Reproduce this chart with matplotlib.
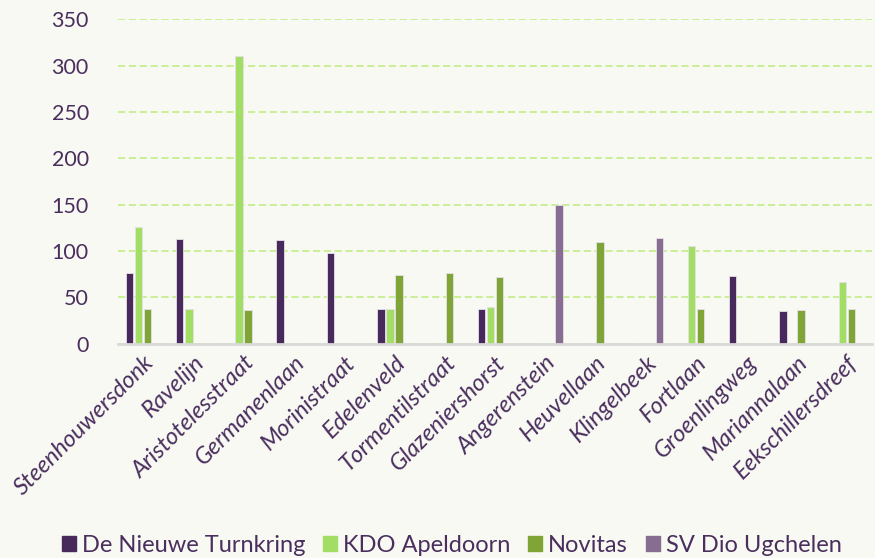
import numpy as np
import matplotlib
matplotlib.use("Agg")
import matplotlib.pyplot as plt
import matplotlib.patches as mpatches

# data
streets = [
    "Steenhouwersdonk", "Ravelijn", "Aristotelesstraat", "Germanenlaan",
    "Morinistraat", "Edelenveld", "Tormentilstraat", "Glazeniershorst",
    "Angerenstein", "Heuvellaan", "Klingelbeek", "Fortlaan",
    "Groenlingweg", "Mariannalaan", "Eekschillersdreef",
]
clubs = ["De Nieuwe Turnkring", "KDO Apeldoorn", "Novitas", "SV Dio Ugchelen"]
turnkring = [76, 113, 0, 112, 98, 37, 0, 37, 0, 0, 0, 0, 73, 35, 0]
kdo = [126, 37, 310, 0, 0, 37, 0, 39, 0, 0, 0, 105, 0, 0, 66]
novitas = [37, 0, 36, 0, 0, 74, 76, 72, 0, 110, 0, 37, 0, 36, 37]
dio = [0, 0, 0, 0, 0, 0, 0, 0, 150, 0, 114, 0, 0, 0, 0]

colours = ["#48295c", "#a2de63", "#7ea536", "#876e91"]
textColour = "#4a2f5e"
bg = "#f9f9f4"

plt.rcParams["font.family"] = ["Lato", "DejaVu Sans"]

fig = plt.figure(figsize=(8.75, 5.58), dpi=100, facecolor=bg)
ax = fig.add_axes([118 / 875, 1 - 343.5 / 558, (872 - 118) / 875, (343.5 - 19.3) / 558])
ax.set_facecolor(bg)

x = np.arange(len(streets))
slot = 0.182
width = 0.15
series = [turnkring, kdo, novitas, dio]
handles = []
for i, (name, vals) in enumerate(zip(clubs, series)):
    pos = x + (i - 1.5) * slot
    hv = [(p, v) for p, v in zip(pos, vals) if v > 0]
    ax.bar([p for p, _ in hv], [v for _, v in hv], width=width, color=colours[i],
           edgecolor="#e6e0ea", linewidth=0.6, zorder=3)
    handles.append(mpatches.Patch(color=colours[i], label=name))

ax.set_xlim(-0.5, len(streets) - 0.5)
ax.set_ylim(0, 350)
ax.set_yticks(range(0, 351, 50))
ax.yaxis.grid(True, color="#c6ef8f", linestyle=(0, (4, 2)), linewidth=1.3, zorder=0)
ax.set_axisbelow(True)
for side in ["top", "right", "left"]:
    ax.spines[side].set_visible(False)
ax.spines["bottom"].set_color("#d9d9d9")
ax.spines["bottom"].set_linewidth(2)
ax.spines["bottom"].set_zorder(4)

ax.tick_params(axis="y", length=0, pad=21, labelsize=15.5, labelcolor=textColour)
ax.tick_params(axis="x", length=0, pad=6)
ax.set_xticks(x)
ax.set_xticklabels(streets, rotation=45, ha="right", rotation_mode="anchor",
                   fontsize=17, style="italic", color=textColour)

fig.legend(handles=handles, loc="center", bbox_to_anchor=(0.516, 1 - 545 / 558), ncol=4,
           frameon=False, fontsize=17, handlelength=0.6, handleheight=0.6,
           handletextpad=0.25, columnspacing=0.75, labelcolor=textColour)

fig.savefig("out.png", dpi=100, facecolor=bg)
